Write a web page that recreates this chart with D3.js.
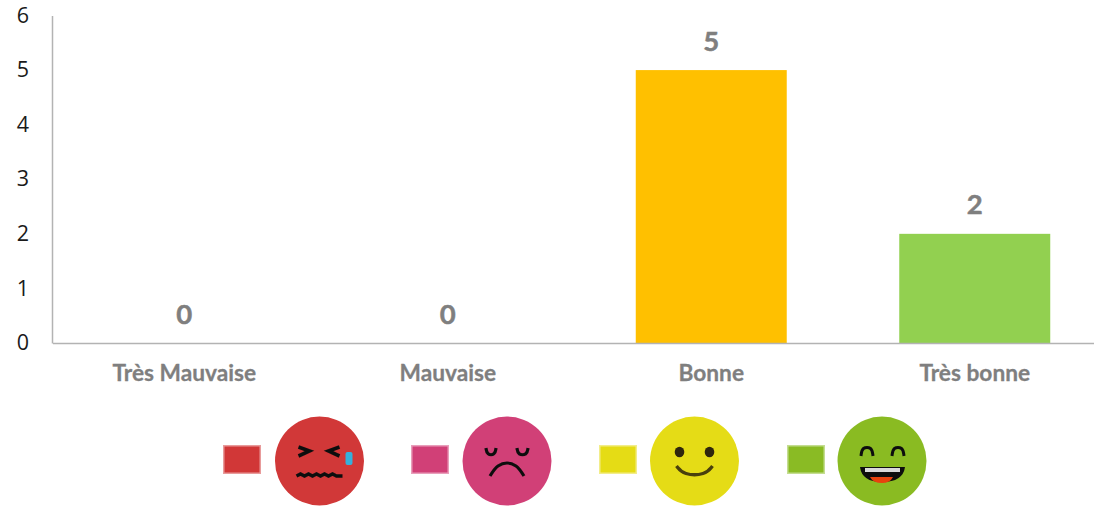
<!DOCTYPE html>
<html><head><meta charset="utf-8">
<script src="https://cdn.jsdelivr.net/npm/d3@7"></script>
<style>
html,body{margin:0;padding:0;background:#fff;overflow:hidden}
svg{display:block}
.y text{font-family:"Open Sans",sans-serif;font-size:21.5px;fill:#1a1a1a}
.x text{font-family:Lato,sans-serif;font-weight:700;font-size:22.7px;fill:#7f7f7f;stroke:#7f7f7f;stroke-width:0.3px}
.val{font-family:Lato,sans-serif;font-weight:700;font-size:27.5px;fill:#7f7f7f;stroke:#7f7f7f;stroke-width:0.5px;text-anchor:middle}
</style></head><body>
<svg id="c" width="1094" height="506"></svg>
<script>
const categories = ["Très Mauvaise","Mauvaise","Bonne","Très bonne"];
const values = [0,0,5,2];
const barColors = ["#C0392B","#D14077","#FFC000","#92D050"];
const yTicks = [0,1,2,3,4,5,6];
const faceKinds = ["cry","sad","smile","laugh"];
const faceColors = ["#D13737","#D14077","#E5DC15","#8ABB24"];

const svg = d3.select("#c");
const defs = svg.append("defs");
defs.append("filter").attr("id","soft").append("feGaussianBlur").attr("stdDeviation",0.55);

const x = d3.scaleBand().domain(categories).range([52.5,1106.5]).paddingInner(0.427).paddingOuter(0.2135);
const y = d3.scaleLinear().domain([0,6]).range([343,15.5]);

const gy = svg.append("g").attr("class","y").attr("transform","translate(52,0)")
  .call(d3.axisLeft(y).tickValues(yTicks).tickSize(0).tickPadding(23).tickFormat(d3.format("d")));
gy.select(".domain").attr("stroke","#b3b3b3").attr("stroke-width",1.5);
gy.selectAll("text").attr("dy","0.31em");

const gx = svg.append("g").attr("class","x").attr("transform","translate(0,343)")
  .call(d3.axisBottom(x).tickSize(0).tickPadding(22));
gx.select(".domain").attr("stroke","#b3b3b3").attr("stroke-width",1.5);

svg.append("g").selectAll("rect").data(categories).join("rect")
  .attr("x",d=>x(d)).attr("width",x.bandwidth())
  .attr("y",(d,i)=>y(values[i])).attr("height",(d,i)=>y(0)-y(values[i]))
  .attr("fill",(d,i)=>barColors[i]);
gx.raise();

svg.append("g").selectAll("text").data(categories).join("text").attr("class","val")
  .attr("x",d=>x(d)+x.bandwidth()/2)
  .attr("y",(d,i)=>y(values[i])-19.5)
  .text((d,i)=>values[i]);

// legend of faces
const lx = d3.scalePoint().domain(faceKinds).range([319.5,882]);
const sx = d3.scalePoint().domain(faceKinds).range([242,806]);
const line = d3.line().curve(d3.curveLinear);
const arc = d3.line().curve(d3.curveBasis);
const round = d3.line().curve(d3.curveCatmullRom);

svg.append("g").selectAll("rect").data(faceKinds).join("rect")
  .attr("x",d=>sx(d)-17.5).attr("y",446.5).attr("width",35).attr("height",26)
  .attr("fill",(d,i)=>faceColors[i]).attr("stroke",(d,i)=>faceColors[i])
  .attr("stroke-opacity",0.5).attr("stroke-width",3);

const leg = svg.append("g").attr("filter","url(#soft)").selectAll("g").data(faceKinds).join("g")
  .attr("transform",d=>`translate(${lx(d)},461)`);

leg.each(function(kind,i){
  const g = d3.select(this), col = faceColors[i];
  g.append("circle").attr("r",44.5).attr("fill",col);
  const ink = (pts,gen,w,c)=>g.append("path").attr("d",gen(pts)).attr("fill","none")
    .attr("stroke",c||"#111").attr("stroke-width",w);
  if(kind==="cry"){
    ink([[-21,-14],[-10,-10],[-21,-5]],line,3.6);
    ink([[20,-14],[9,-10],[20,-5]],line,3.6);
    ink([[-23,15],[-19,13],[-15,15],[-11,13],[-7,15],[-3,13],[1,15],[5,13],[9,15],[13,13],[17,15],[23,15]],line,3.6);
    g.append("rect").attr("x",26).attr("y",-9).attr("width",7).attr("height",13).attr("rx",2).attr("fill","#35B0DC");
  }
  if(kind==="sad"){
    ink([[-21,-13],[-20,-6],[-12,-6],[-11,-13]],arc,3.2);
    ink([[10,-13],[11,-6],[20,-6],[21,-13]],arc,3.2);
    ink([[-17,15],[-9,5],[0,2],[9,5],[17,15]],round,3.2);
  }
  if(kind==="smile"){
    g.append("ellipse").attr("cx",-15).attr("cy",-9).attr("rx",4.8).attr("ry",5.2).attr("fill","#2F2510");
    g.append("ellipse").attr("cx",15).attr("cy",-9).attr("rx",4.8).attr("ry",5.2).attr("fill","#2F2510");
    ink([[-18,5],[-11,14],[11,14],[18,5]],arc,3.4,"#4a3f10");
  }
  if(kind==="laugh"){
    ink([[-21,-5],[-20,-14],[-10,-14],[-9,-5]],arc,3);
    ink([[10,-5],[11,-14],[21,-14],[22,-5]],arc,3);
    g.append("path").attr("d","M-22,6 L23,6 Q21,21 0,21 Q-20,21 -22,6 Z").attr("fill","#0c0c0c");
    g.append("rect").attr("x",-17).attr("y",7).attr("width",35).attr("height",4).attr("fill","#D9D9D9");
    g.append("path").attr("d","M-12,16 L11,16 Q8,22 0,22 Q-9,22 -12,16 Z").attr("fill","#E8420F");
  }
});
</script>
</body></html>
